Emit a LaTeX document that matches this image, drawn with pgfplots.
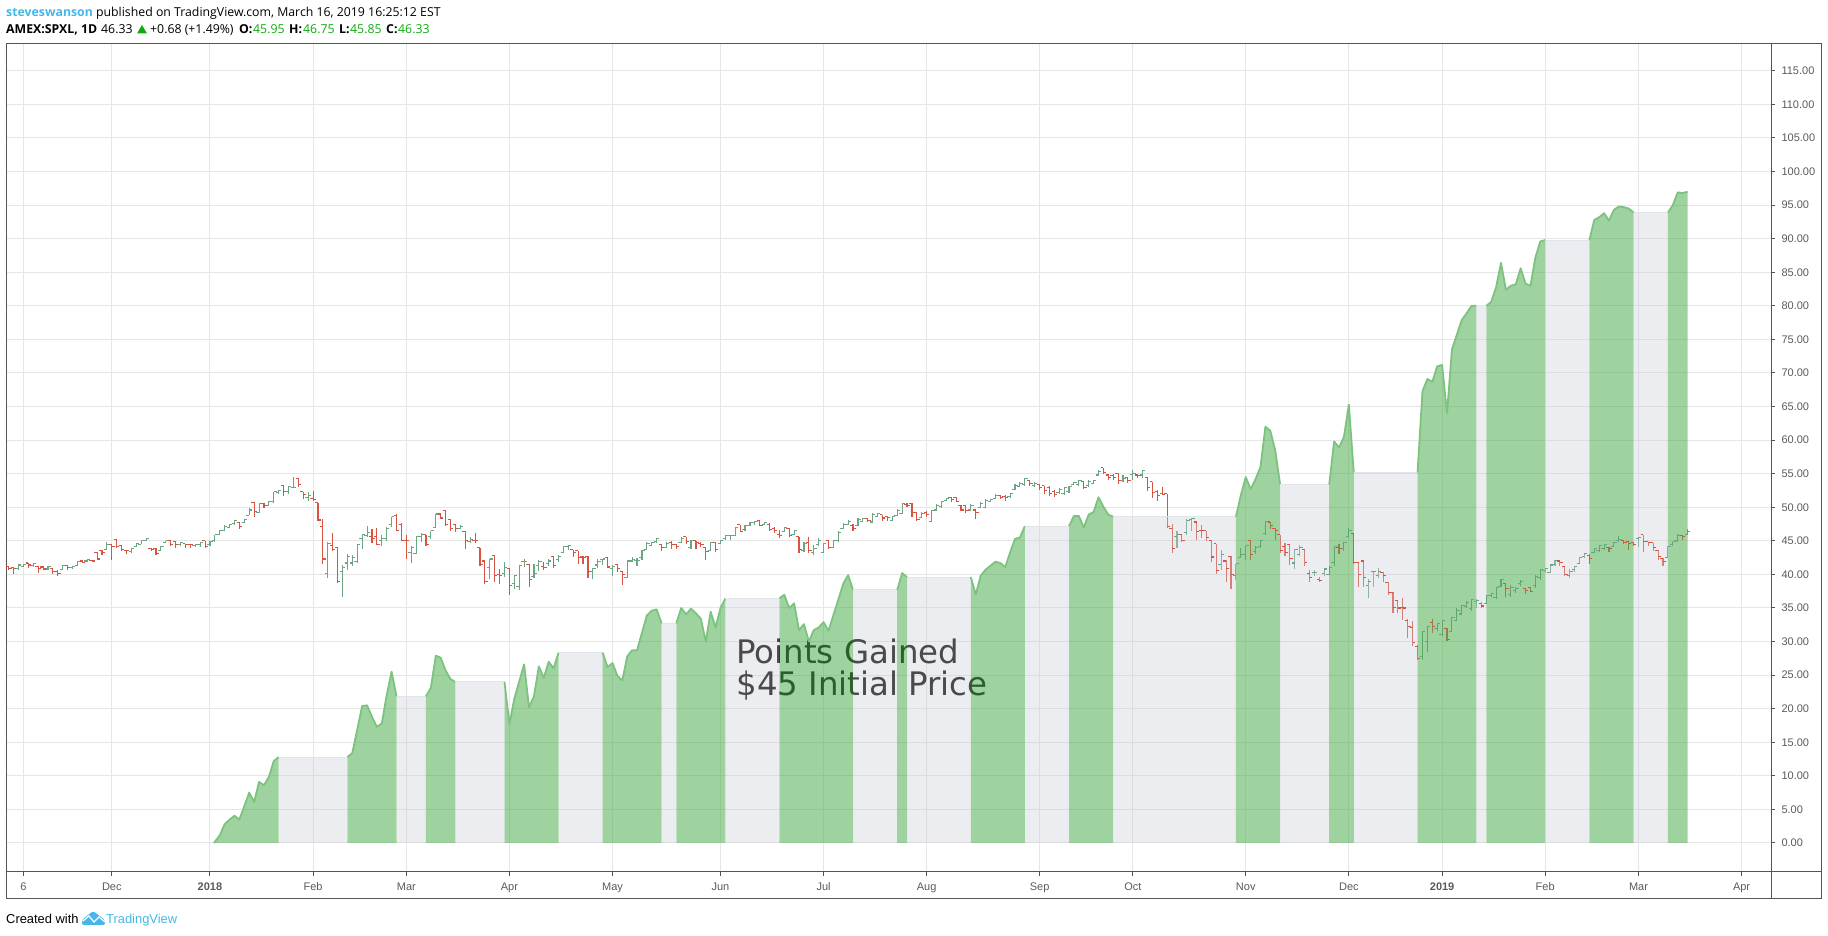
\documentclass[border=0pt]{standalone}
\usepackage{pgfplots}
\usepackage{pgfplotstable}
\usepackage{fontspec}
\pgfplotsset{compat=1.18}
\setmainfont{Liberation Sans}
\newfontfamily\headfont{Open Sans}
\newfontfamily\notefont{DejaVu Sans}
\definecolor{barup}{HTML}{6BA583}
\definecolor{bardown}{HTML}{D75442}
\definecolor{gridc}{HTML}{E6E6E6}
\definecolor{framec}{HTML}{555555}
\definecolor{labelc}{HTML}{5A5A5A}
\definecolor{areagreen}{RGB}{79,173,80}
\definecolor{areagray}{RGB}{203,205,216}
\definecolor{linegreen}{RGB}{124,195,128}
\definecolor{linegray}{RGB}{226,228,234}
\definecolor{tvblue}{HTML}{45B7E8}
\definecolor{quote}{HTML}{10A810}
\pgfdeclareplotmark{lefttick}{\pgfpathmoveto{\pgfqpoint{-2.8pt}{0pt}}\pgfpathlineto{\pgfqpoint{0pt}{0pt}}\pgfusepathqstroke}
\pgfdeclareplotmark{righttick}{\pgfpathmoveto{\pgfqpoint{0pt}{0pt}}\pgfpathlineto{\pgfqpoint{2.8pt}{0pt}}\pgfusepathqstroke}
\pgfplotstableread{
i o h l c
-39 40.9 41.5 40.6 41.4
-38 41.2 41.5 41.1 41.5
-36 41.3 41.7 41.1 41.6
-33 40.8 41.3 40.6 41.2
-30 40.7 41.4 40.7 41.3
-28 41.0 41.3 40.8 41.2
-27 41.3 42.0 41.3 41.9
-25 42.0 42.2 41.8 42.2
-21 43.7 44.9 43.7 44.4
-16 43.4 44.0 43.2 43.9
-15 44.1 44.7 44.1 44.6
-14 44.5 45.0 44.5 45.0
-13 45.1 45.4 45.0 45.3
-10 43.5 44.3 43.5 44.2
-9 44.8 45.0 44.8 45.0
-6 44.4 44.8 44.2 44.7
-3 44.3 44.5 44.1 44.5
-2 44.4 44.7 44.1 44.7
0 44.4 45.0 44.2 44.9
1 45.0 45.9 44.9 45.9
2 46.0 46.6 46.0 46.5
3 46.6 47.4 46.5 47.2
4 47.0 47.5 46.9 47.4
5 47.6 48.1 47.4 48.0
7 47.7 48.3 47.7 48.2
8 48.8 49.9 48.8 49.6
10 49.2 50.6 49.1 50.5
12 50.3 51.0 50.2 50.9
13 50.8 52.3 50.7 52.3
14 52.2 52.6 52.0 52.5
16 52.4 53.2 52.0 53.1
17 52.9 54.5 52.8 53.0
20 51.5 52.3 50.9 51.8
24 40.2 44.8 39.5 44.6
27 40.4 41.4 36.6 41.0
28 41.7 43.1 40.6 42.7
29 41.7 42.9 41.2 42.5
30 41.9 44.5 41.7 44.5
31 45.4 46.0 43.8 46.0
32 45.8 47.2 45.6 46.2
35 45.0 45.9 44.3 45.3
36 45.4 47.0 45.0 46.9
37 47.4 48.6 47.0 48.6
41 43.3 44.2 41.7 44.0
42 43.1 45.6 43.1 45.6
43 45.7 46.1 44.8 46.0
45 45.6 46.5 45.3 46.5
46 47.0 49.0 46.9 49.0
51 46.9 47.4 46.7 47.2
53 44.9 45.5 44.7 45.2
57 41.0 42.3 39.3 42.3
60 40.1 41.9 39.6 41.0
62 38.6 39.9 37.8 39.8
63 38.2 41.3 37.7 41.3
64 41.9 42.3 41.1 41.9
66 39.7 41.5 39.5 40.1
67 41.3 42.1 40.5 41.9
69 41.6 42.3 41.3 42.0
71 42.2 42.9 41.8 42.7
72 43.3 44.3 43.2 44.1
73 44.2 44.4 43.7 44.3
78 40.4 40.9 39.3 40.9
79 41.4 42.3 41.0 41.9
80 42.2 42.3 41.4 42.3
82 40.9 41.4 39.8 41.2
85 39.6 42.0 39.5 42.0
86 42.0 42.6 41.8 42.2
87 42.1 42.4 41.2 42.1
88 42.5 43.6 42.1 43.5
89 43.7 44.8 43.6 44.6
90 44.3 44.9 44.2 44.8
91 44.9 45.4 44.7 45.3
93 44.0 44.9 43.9 44.6
96 44.8 45.5 44.7 45.3
98 44.0 45.2 43.8 45.1
102 43.6 44.9 43.5 44.8
104 44.6 45.2 44.5 45.1
105 45.3 45.9 45.2 45.8
106 45.8 45.9 45.2 45.8
107 45.8 47.1 45.7 47.0
109 46.7 47.4 46.5 47.3
110 47.3 47.8 47.2 47.7
111 47.7 47.9 47.3 47.9
113 47.4 47.8 47.3 47.7
117 46.4 47.1 46.3 47.0
119 45.9 46.6 45.8 46.5
121 43.6 44.8 43.3 44.6
123 43.2 44.4 42.9 43.9
124 44.4 45.4 44.2 45.0
125 43.3 44.7 43.2 44.6
127 44.0 45.2 43.9 45.0
128 45.0 46.4 44.8 46.3
129 46.9 47.6 46.7 47.5
130 47.5 48.1 47.4 47.9
132 47.3 48.4 47.2 48.2
133 47.9 48.4 47.8 48.3
135 47.8 49.1 47.6 48.9
136 48.6 49.2 48.5 49.1
139 48.0 48.7 47.9 48.6
140 48.8 49.7 48.7 49.5
141 49.1 50.7 49.0 50.5
145 48.5 49.3 48.4 49.1
147 47.9 49.6 47.8 49.5
148 49.6 50.5 49.5 50.3
149 50.1 51.0 49.9 50.9
150 51.0 51.4 50.9 51.3
155 49.6 50.5 49.4 50.2
157 50.0 50.8 49.9 50.5
158 50.0 51.2 49.9 51.0
159 50.9 51.3 50.8 51.2
160 51.3 52.0 51.2 51.8
163 51.6 52.2 51.4 52.1
164 52.7 53.4 52.6 53.3
165 53.1 53.7 53.0 53.6
166 53.4 54.4 53.2 54.3
168 53.2 53.7 53.0 53.6
173 52.2 52.8 52.0 52.7
174 52.0 53.0 51.8 52.9
175 52.3 53.2 52.2 53.1
176 53.4 53.8 53.3 53.7
177 53.4 54.1 53.2 54.0
179 53.2 54.1 53.0 53.9
180 53.6 54.1 53.5 54.0
181 54.8 55.5 54.7 55.3
186 54.0 54.8 53.7 54.3
188 54.9 55.5 54.1 55.0
190 54.8 55.6 54.3 55.5
197 45.6 46.4 44.0 46.0
199 46.3 48.3 45.8 48.0
200 48.2 48.4 46.5 48.3
206 41.5 43.6 40.7 43.0
209 39.9 41.6 39.2 41.6
210 42.5 44.0 42.4 43.0
211 43.0 44.3 42.2 44.3
213 43.4 44.3 43.0 44.0
214 44.1 45.0 44.0 45.0
215 46.1 47.9 45.9 47.9
221 41.7 43.8 40.8 43.7
222 43.0 44.4 42.7 44.0
225 40.3 40.7 39.7 40.3
227 40.2 41.0 39.8 40.8
228 40.0 41.2 39.9 41.0
229 41.8 44.3 41.3 44.2
231 43.8 44.9 43.5 44.8
232 45.6 46.9 45.4 46.5
236 38.4 39.3 36.5 39.0
237 40.4 40.5 38.1 40.5
238 39.8 41.0 39.4 40.4
247 27.8 31.5 27.2 31.5
248 30.0 32.2 28.4 32.2
250 32.0 32.8 31.5 32.7
251 31.0 33.1 30.8 33.1
253 31.5 33.7 31.4 33.6
254 33.1 35.0 33.0 34.6
255 34.1 35.4 34.0 35.4
256 35.2 36.0 35.0 35.8
257 34.9 36.3 34.5 36.2
258 35.9 36.3 35.0 36.1
260 35.7 36.9 35.6 36.8
261 36.9 37.3 36.6 37.1
262 36.5 38.1 36.3 38.0
263 38.2 39.3 38.1 39.2
265 37.0 38.4 36.6 38.1
266 37.6 38.1 37.2 37.9
267 38.6 39.2 38.3 38.9
270 38.3 39.9 38.0 39.7
271 39.5 40.8 39.2 40.7
272 40.6 41.0 40.2 40.9
273 40.3 41.6 40.2 41.4
274 41.5 42.2 41.3 42.1
277 39.9 40.8 39.4 40.4
278 40.7 41.3 40.4 41.2
279 41.6 42.6 41.5 42.5
280 42.7 43.2 42.5 43.1
282 43.3 44.0 43.2 43.9
283 43.5 44.4 43.3 44.3
284 43.9 44.6 43.7 44.4
286 44.2 44.9 44.1 44.8
287 45.0 45.7 44.8 45.2
291 45.4 45.5 44.1 45.5
297 42.5 44.3 42.5 44.2
298 44.4 44.9 44.3 44.9
299 45.1 46.0 44.9 45.8
301 45.95 46.75 45.85 46.33
}\barsup
\pgfplotstableread{
i o h l c
-41 41.2 41.3 40.6 40.9
-40 41.0 41.0 40.1 40.9
-37 41.7 41.7 41.0 41.4
-35 41.2 41.3 40.2 40.9
-34 41.1 41.2 40.6 40.8
-32 40.9 40.9 40.1 40.5
-31 40.5 40.6 39.8 40.1
-29 41.3 41.3 40.7 41.0
-26 42.0 42.1 41.7 41.8
-24 42.1 42.2 41.8 42.0
-23 43.3 43.4 42.1 42.3
-22 43.6 43.7 42.9 43.3
-20 44.4 44.5 42.1 44.2
-19 45.2 45.2 44.0 44.1
-18 44.3 44.4 43.5 43.7
-17 43.6 43.7 43.1 43.5
-12 43.8 43.9 43.5 43.7
-11 43.8 43.9 42.9 43.1
-8 45.1 45.1 44.3 44.4
-7 44.9 45.0 44.0 44.4
-5 44.6 44.6 44.0 44.5
-4 44.5 44.5 44.0 44.4
-1 45.0 45.0 43.9 44.2
6 47.7 47.8 46.8 47.2
9 50.7 50.8 48.6 49.4
11 50.6 50.7 49.9 50.3
15 53.2 53.3 51.7 52.4
18 54.3 54.3 53.0 53.4
19 52.3 52.3 51.3 51.9
21 51.3 52.4 50.9 51.2
22 50.7 50.7 48.0 48.1
23 47.2 48.2 41.5 42.3
25 44.3 46.1 43.6 43.7
26 44.0 44.0 38.7 39.0
33 45.6 46.8 44.7 45.3
34 45.6 46.9 44.4 44.5
38 48.8 49.0 46.5 46.6
39 47.5 47.6 45.0 45.1
40 45.1 45.9 42.3 45.0
44 45.9 45.9 44.2 44.4
47 49.0 49.2 48.2 48.4
48 49.5 49.5 47.2 47.4
49 48.2 48.2 46.5 46.8
50 47.4 47.5 46.3 46.9
52 46.4 46.4 43.8 45.0
54 45.1 46.1 44.7 45.0
55 44.0 44.0 41.2 41.5
56 42.0 42.0 38.5 38.9
58 42.8 42.8 38.8 39.8
59 40.0 40.8 38.6 39.9
61 40.9 40.9 36.9 38.3
65 41.5 41.6 38.2 39.3
68 41.2 41.9 40.7 41.0
70 42.7 42.7 41.0 41.3
74 43.7 43.7 42.6 43.2
75 43.5 43.5 41.6 42.5
76 42.6 42.8 41.5 42.5
77 42.7 42.8 39.5 40.5
81 42.5 42.6 41.0 41.1
83 41.5 41.6 40.3 40.9
84 40.5 40.5 38.4 40.0
92 44.4 44.4 43.5 44.0
94 44.7 45.0 43.8 44.5
95 44.4 44.5 43.8 44.2
97 45.6 45.6 44.5 44.9
99 45.0 45.0 43.8 44.8
100 44.6 44.9 44.1 44.5
101 44.0 44.0 42.2 43.4
103 44.7 44.7 43.3 43.7
108 47.4 47.4 46.3 46.4
112 48.0 48.0 47.2 47.3
114 47.5 47.6 46.4 46.7
115 46.9 47.1 46.1 46.5
116 46.0 46.6 45.4 45.8
118 46.9 46.9 45.5 45.8
120 45.6 45.6 43.2 43.7
122 44.8 45.6 43.2 43.5
126 45.1 45.2 43.8 44.0
131 47.3 47.5 46.5 46.9
134 48.3 48.4 47.8 48.0
137 48.9 48.9 48.0 48.4
138 48.6 48.7 48.0 48.5
142 50.4 50.6 50.0 50.3
143 50.6 50.6 48.5 49.2
144 49.2 49.3 47.9 48.2
146 49.2 49.4 48.5 48.9
151 51.4 51.5 50.8 51.2
152 51.4 51.5 50.8 50.9
153 50.3 50.4 49.4 49.6
154 50.2 50.4 49.1 49.5
156 49.6 49.7 48.2 49.2
161 51.7 51.9 51.2 51.4
162 51.6 51.8 50.9 51.4
167 54.0 54.1 53.1 53.5
169 53.4 53.5 52.5 53.0
170 53.2 53.2 52.0 52.5
171 53.0 53.1 51.7 52.1
172 52.4 52.5 51.5 51.9
178 53.8 53.8 52.7 52.9
182 55.9 55.9 55.0 55.2
183 54.8 54.9 54.1 54.4
184 54.7 54.9 54.1 54.5
185 55.0 55.1 53.4 54.0
187 54.4 54.5 53.6 54.0
189 54.8 55.0 54.3 54.7
191 54.5 54.5 52.4 53.0
192 53.8 53.8 51.4 52.2
193 52.4 52.5 51.0 51.7
194 52.0 53.0 51.9 51.9
195 52.0 52.0 46.9 47.2
196 46.8 47.5 43.2 43.8
198 46.0 46.0 44.9 45.1
201 47.8 47.9 45.2 46.4
202 46.6 47.4 45.4 46.5
203 46.5 46.5 45.0 45.5
204 45.1 45.1 41.9 42.6
205 44.6 44.6 40.1 40.6
207 42.0 42.1 38.8 40.9
208 42.7 42.7 37.8 40.0
212 45.0 45.0 42.1 43.0
216 47.8 47.8 46.7 47.3
217 46.9 46.9 45.2 46.6
218 45.9 45.9 43.2 43.5
219 44.1 44.7 42.7 43.3
220 44.4 44.4 41.4 42.4
223 43.7 43.8 41.2 41.8
224 40.2 40.7 38.8 39.5
226 39.2 39.6 38.8 39.1
230 44.0 44.6 43.0 43.8
233 46.1 46.1 41.5 41.8
234 41.8 41.8 38.1 40.0
235 42.0 42.2 38.1 39.5
239 40.3 40.4 38.8 39.9
240 38.8 38.8 36.9 37.3
241 37.3 37.4 34.2 35.1
242 36.1 36.1 34.3 35.0
243 35.1 36.5 33.2 35.0
244 33.2 33.3 30.5 32.2
245 32.1 33.1 29.4 29.8
246 29.3 29.5 27.2 27.5
249 32.8 33.3 31.3 32.3
252 31.9 32.0 30.1 30.3
259 35.7 35.9 35.0 35.3
264 38.6 38.6 36.7 37.9
268 37.9 38.0 37.1 37.6
269 38.0 38.1 37.4 37.5
275 42.0 42.0 41.3 41.8
276 41.2 41.2 39.7 40.0
281 42.8 43.1 41.6 42.4
285 44.0 44.1 43.3 43.8
288 45.1 45.2 44.5 44.7
289 44.9 44.9 43.7 44.6
290 44.7 44.7 44.2 44.4
292 45.9 45.9 43.4 44.9
293 44.9 44.9 44.2 44.7
294 44.7 44.7 43.5 44.0
295 43.6 43.6 42.1 42.7
296 42.4 42.5 41.2 41.9
300 45.8 45.8 45.1 45.6
}\barsdown
\newcommand\gseg[1]{%
  \addplot[fill=areagreen,fill opacity=0.55,draw=none] coordinates {#1} \closedcycle;
  \addplot[draw=linegreen,line width=1.8pt,line join=round] coordinates {#1};}
\newcommand\wseg[1]{%
  \addplot[fill=areagray,fill opacity=0.365,draw=none] coordinates {#1} \closedcycle;
  \addplot[draw=linegray,line width=1pt] coordinates {#1};}
\begin{document}
\begin{tikzpicture}[x=1pt,y=1pt]
\path[use as bounding box] (0,0) rectangle (1828,936);
\begin{axis}[
  at={(6pt,64pt)},anchor=south west,
  scale only axis,width=1765pt,height=828pt,
  xmin=-41.55,xmax=318,ymin=-4.32,ymax=119,
  axis line style={draw=framec,line width=1pt},
  xtick pos=bottom,ytick pos=right,
  tick align=outside,
  major tick length=4pt,
  tick style={draw=framec,line width=1pt},
  grid=major,
  grid style={draw=gridc,line width=1pt},
  xtick={-38,-20,0,21,40,61,82,104,125,146,169,188,211,232,251,272,291,312},
  xticklabels={6,Dec,\textbf{2018},Feb,Mar,Apr,May,Jun,Jul,Aug,Sep,Oct,Nov,Dec,\textbf{2019},Feb,Mar,Apr},
  ytick={0,5,...,115},
  x tick label style={font=\fontsize{11}{13}\selectfont,text=labelc,anchor=base,yshift=-15pt},
  y tick label style={font=\fontsize{11}{13}\selectfont,text=labelc,anchor=west,xshift=3pt},
  yticklabel style={/pgf/number format/.cd,fixed,fixed zerofill,precision=2,assume math mode=true},
  clip=true,
]
% price bars
\addplot[only marks,mark=righttick,mark options={draw=barup,line width=1.1pt},
  error bars/.cd,y dir=both,y explicit,error mark=none,error bar style={draw=barup,line width=1.1pt}]
  table[x=i,y=c,y error plus expr=\thisrow{h}-\thisrow{c},y error minus expr=\thisrow{c}-\thisrow{l}] {\barsup};
\addplot[only marks,mark=lefttick,mark options={draw=barup,line width=1.1pt}] table[x=i,y=o] {\barsup};
\addplot[only marks,mark=righttick,mark options={draw=bardown,line width=1.1pt},
  error bars/.cd,y dir=both,y explicit,error mark=none,error bar style={draw=bardown,line width=1.1pt}]
  table[x=i,y=c,y error plus expr=\thisrow{h}-\thisrow{c},y error minus expr=\thisrow{c}-\thisrow{l}] {\barsdown};
\addplot[only marks,mark=lefttick,mark options={draw=bardown,line width=1.1pt}] table[x=i,y=o] {\barsdown};
% note
\addplot[draw=none] coordinates {(107.2,26.66)} node[anchor=base west,inner sep=0pt,font=\notefont\fontsize{32.4}{34}\selectfont,text=black] {Points Gained};
\addplot[draw=none] coordinates {(107.2,21.9)} node[anchor=base west,inner sep=0pt,font=\notefont\fontsize{32.4}{34}\selectfont,text=black] {\$45 Initial Price};
% points gained
\gseg{(0.8,0)(2,1.15)(3,2.8)(4,3.5)(5,4.05)(6,3.5)(8,7.5)(9,6.1)(10,9.1)(11,8.6)(12,9.85)(13,12.2)(14,12.8)}
\wseg{(14,12.8)(28,12.8)}
\gseg{(28,12.8)(29,13.4)(31,20.4)(32,20.5)(33,18.8)(34,17.3)(35,17.8)(36,22)(37,25.5)(38,21.85)}
\wseg{(38,21.85)(44,21.85)}
\gseg{(44,21.85)(45,23.1)(46,27.9)(47,27.6)(48,25.7)(49,24.4)(50,23.98)}
\wseg{(50,23.98)(60,23.98)}
\gseg{(60,23.98)(61,17.7)(62,21.5)(64,26.6)(65,20.2)(66,21.85)(67,26.3)(68,24.6)(69,27)(70,26)(71,28.35)}
\wseg{(71,28.35)(80,28.35)}
\gseg{(80,28.35)(81,26.2)(82,26.8)(83,24.9)(84,24.2)(85,27.8)(86,28.7)(87,28.7)(89,33.9)(90,34.6)(91,34.8)(92,32.7)}
\wseg{(92,32.7)(95,32.7)}
\gseg{(95,32.7)(96,35)(97,34.05)(98,34.9)(99,34.2)(100,33.4)(101,30)(102,34.45)(103,32.1)(104,35)(105,36.45)}
\wseg{(105,36.45)(116,36.45)}
\gseg{(116,36.45)(117,36.95)(118,35)(119,35.7)(120,31.7)(121,32.6)(122,30)(123,31.7)(124,32.1)(125,32.9)(126,31.6)(129,38.6)(130,39.9)(131,37.7)}
\wseg{(131,37.7)(140,37.7)}
\gseg{(140,37.7)(141,40.2)(142,39.6)}
\wseg{(142,39.6)(155,39.6)}
\gseg{(155,39.6)(156,37.0)(157,39.8)(158,40.7)(159,41.3)(160,41.9)(161,41.7)(162,41.1)(163,43.3)(164,45.3)(165,45.5)(166,47.2)}
\wseg{(166,47.2)(175,47.2)}
\gseg{(175,47.2)(176,48.7)(177,48.7)(178,47)(179,48.9)(180,49.3)(181,51.5)(182,50.1)(183,48.9)(184,48.6)}
\wseg{(184,48.6)(209,48.6)}
\gseg{(209,48.6)(210,51.8)(211,54.5)(212,52.7)(213,54.2)(214,56)(215,62)(216,61.4)(217,58.5)(218,53.4)}
\wseg{(218,53.4)(228,53.4)}
\gseg{(228,53.4)(229,59.8)(230,58.9)(231,60.5)(232,65.3)(233,55.2)}
\wseg{(233,55.2)(246,55.2)}
\gseg{(246,55.2)(247,67.3)(248,69.1)(249,68.7)(250,71)(251,71.2)(252,64)(253,73.5)(254,75.7)(255,77.9)(256,78.9)(257,80)(258,80)}
\wseg{(258,80)(260,80)}
\gseg{(260,80)(261,80.6)(262,82.8)(263,86.4)(264,82.4)(265,83)(266,83.2)(267,85.6)(268,83.3)(269,83)(270,87.2)(271,89.6)(272,89.8)}
\wseg{(272,89.8)(281,89.8)}
\gseg{(281,89.8)(282,92.8)(283,93.2)(284,93.8)(285,92.7)(286,94.3)(287,94.8)(288,94.7)(289,94.5)(290,93.9)}
\wseg{(290,93.9)(297,93.9)}
\gseg{(297,93.9)(298,95)(299,96.9)(300,96.8)(301,97)}
\end{axis}
% frame
\draw[framec,line width=1pt] (6,64) -- (6,37) -- (1821,37) -- (1821,892) -- (1771,892);
\draw[framec,line width=1pt] (1771,64) -- (1771,37);
\draw[framec,line width=1pt] (1771,64) -- (1821,64);
% header
\node[anchor=base west,inner sep=0pt,font=\headfont\fontsize{12.3}{15}\selectfont] at (6,919) {\textbf{\textcolor{tvblue}{steveswanson}} published on TradingView.com, March 16, 2019 16:25:12 EST};
\begin{scope}[every node/.style={anchor=base west,inner sep=0pt,font=\headfont\fontsize{12.3}{15}\selectfont}]
\node at (6,902.5) {\textbf{AMEX:SPXL, 1D}};
\node at (101,902.5) {46.33};
\fill[quote] (137,902.5) -- (147,902.5) -- (142,911) -- cycle;
\node at (150,902.5) {+0.68 (+1.49\%)};
\node at (239,902.5) {\textbf{O:}};
\node[text=quote] at (253,902.5) {45.95};
\node at (289,902.5) {\textbf{H:}};
\node[text=quote] at (303,902.5) {46.75};
\node at (339,902.5) {\textbf{L:}};
\node[text=quote] at (350,902.5) {45.85};
\node at (386,902.5) {\textbf{C:}};
\node[text=quote] at (398,902.5) {46.33};
\end{scope}
% footer
\node[anchor=base west,inner sep=0pt,font=\fontsize{12.9}{15}\selectfont] at (6,12.5) {Created with};
\fill[tvblue,rounded corners=2pt] (82,11) -- (82,16) -- (93,25) -- (105,16) -- (105,11) -- cycle;
\draw[white,line width=1.2pt] (83,15) -- (89,20) -- (94,14) -- (99,19) -- (105,14);
\node[anchor=base west,inner sep=0pt,font=\fontsize{12.9}{15}\selectfont,text=tvblue] at (106,12.5) {TradingView};
\end{tikzpicture}
\end{document}
